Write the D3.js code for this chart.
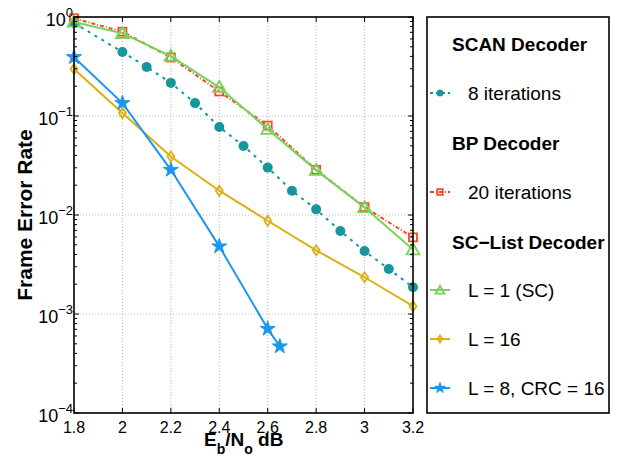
<!DOCTYPE html>
<html>
<head>
<meta charset="utf-8">
<script src="https://cdn.jsdelivr.net/npm/d3@7"></script>
<style>
  body { margin: 0; background: #fff; }
  svg { display: block; font-family: "Liberation Sans", Arial, Helvetica, sans-serif; }
</style>
</head>
<body>
<svg id="chart" width="624" height="459"></svg>
<script>
// Eb/No (dB) grid for each curve
const ebnoScan = [1.8, 2.0, 2.1, 2.2, 2.3, 2.4, 2.5, 2.6, 2.7, 2.8, 2.9, 3.0, 3.1, 3.2];
const ferScan  = [0.87, 0.443, 0.313, 0.216, 0.135, 0.0774, 0.0498, 0.0301, 0.0176, 0.0114, 0.00689, 0.00432, 0.00285, 0.00186];

const ebnoBP = [1.8, 2.0, 2.2, 2.4, 2.6, 2.8, 3.0, 3.2];
const ferBP  = [0.97, 0.71, 0.39, 0.177, 0.080, 0.0286, 0.0120, 0.00594];

const ebnoSC = [1.8, 2.0, 2.2, 2.4, 2.6, 2.8, 3.0, 3.2];
const ferSC  = [0.89, 0.684, 0.403, 0.195, 0.0736, 0.0284, 0.0119, 0.00447];

const ebnoL16 = [1.8, 2.0, 2.2, 2.4, 2.6, 2.8, 3.0, 3.2];
const ferL16  = [0.299, 0.107, 0.039, 0.0176, 0.00875, 0.0044, 0.00235, 0.0012];

const ebnoCRC = [1.8, 2.0, 2.2, 2.4, 2.6, 2.65];
const ferCRC  = [0.393, 0.135, 0.0286, 0.00482, 0.000708, 0.000471];

const xTicks = [1.8, 2.0, 2.2, 2.4, 2.6, 2.8, 3.0, 3.2];
const xTickLabels = ["1.8", "2", "2.2", "2.4", "2.6", "2.8", "3", "3.2"];
const yExponents = [0, -1, -2, -3, -4];

const colors = {
  scan: "#17969c",
  bp: "#f5492a",
  sc: "#76d45a",
  l16: "#dcb015",
  crc: "#1d97ee"
};

const svg = d3.select("#chart");
const margin = { left: 74, right: 211, top: 17, bottom: 46 };
const W = 624, H = 459;
const plotW = W - margin.left - margin.right;
const plotH = H - margin.top - margin.bottom;

const x = d3.scaleLinear().domain([1.8, 3.2]).range([margin.left, margin.left + plotW]);
const y = d3.scaleLog().domain([1e-4, 1]).range([margin.top + plotH, margin.top]);

const g = svg.append("g");

// dotted grid at major ticks
const grid = g.append("g").attr("stroke", "#b8b8b8").attr("stroke-width", 1).attr("stroke-dasharray", "1,2");
xTicks.slice(1, -1).forEach(t => {
  grid.append("line").attr("x1", x(t)).attr("x2", x(t)).attr("y1", y(1)).attr("y2", y(1e-4));
});
yExponents.slice(1, -1).forEach(e => {
  grid.append("line").attr("x1", x(1.8)).attr("x2", x(3.2)).attr("y1", y(Math.pow(10, e))).attr("y2", y(Math.pow(10, e)));
});

// series
function series(xs, ys, color, dash, marker) {
  const pts = xs.map((v, i) => [v, ys[i]]);
  const line = d3.line().x(d => x(d[0])).y(d => y(d[1]));
  g.append("path").datum(pts).attr("d", line)
    .attr("fill", "none").attr("stroke", color).attr("stroke-width", 2)
    .attr("stroke-dasharray", dash);
  const mg = g.append("g");
  pts.forEach(p => drawMarker(mg, x(p[0]), y(p[1]), color, marker, 1));
}

function drawMarker(sel, cx, cy, color, marker, s) {
  if (marker === "circle") {
    sel.append("circle").attr("cx", cx).attr("cy", cy).attr("r", 5 * s).attr("fill", color);
  } else if (marker === "square") {
    sel.append("rect").attr("x", cx - 4 * s).attr("y", cy - 4 * s).attr("width", 8 * s).attr("height", 8 * s)
      .attr("fill", "none").attr("stroke", color).attr("stroke-width", 1.8);
  } else if (marker === "triangle") {
    sel.append("path").attr("d", d3.symbol(d3.symbolTriangle, 70 * s * s)())
      .attr("transform", `translate(${cx},${cy + 1})`)
      .attr("fill", "none").attr("stroke", color).attr("stroke-width", 1.8);
  } else if (marker === "diamond") {
    sel.append("path").attr("d", `M0,${-5 * s}L${3.5 * s},0L0,${5 * s}L${-3.5 * s},0Z`)
      .attr("transform", `translate(${cx},${cy})`)
      .attr("fill", "none").attr("stroke", color).attr("stroke-width", 1.8);
  } else if (marker === "star") {
    sel.append("path").attr("d", d3.symbol(d3.symbolStar, 70 * s * s)())
      .attr("transform", `translate(${cx},${cy})`)
      .attr("fill", color).attr("stroke", color).attr("stroke-width", 1);
  }
}

series(ebnoL16, ferL16, colors.l16, null, "diamond");
series(ebnoCRC, ferCRC, colors.crc, null, "star");
series(ebnoScan, ferScan, colors.scan, "3,5", "circle");
series(ebnoBP, ferBP, colors.bp, "4,2,1,2", "square");
series(ebnoSC, ferSC, colors.sc, null, "triangle");

// axes box
const axes = g.append("g").attr("stroke", "#000");
axes.append("rect").attr("x", x(1.8)).attr("y", y(1)).attr("width", plotW).attr("height", plotH)
  .attr("fill", "none").attr("stroke-width", 1.6);

// x ticks (inside, top and bottom)
xTicks.forEach(t => {
  axes.append("line").attr("x1", x(t)).attr("x2", x(t)).attr("y1", y(1e-4)).attr("y2", y(1e-4) - 5).attr("stroke-width", 1);
  axes.append("line").attr("x1", x(t)).attr("x2", x(t)).attr("y1", y(1)).attr("y2", y(1) + 5).attr("stroke-width", 1);
});
// y ticks, major and minor, both sides
yExponents.forEach(e => {
  const base = Math.pow(10, e);
  [x(1.8), x(3.2)].forEach((px, side) => {
    const dir = side === 0 ? 1 : -1;
    axes.append("line").attr("x1", px).attr("x2", px + dir * 5).attr("y1", y(base)).attr("y2", y(base)).attr("stroke-width", 1);
    if (e < 0) {
      for (let k = 2; k <= 9; k++) {
        const v = base * k;
        axes.append("line").attr("x1", px).attr("x2", px + dir * 3).attr("y1", y(v)).attr("y2", y(v)).attr("stroke-width", 1);
      }
    }
  });
});

// tick labels
xTicks.forEach((t, i) => {
  g.append("text").attr("x", x(t)).attr("y", 433).attr("text-anchor", "middle")
    .attr("font-size", 16).text(xTickLabels[i]);
});
yExponents.forEach(e => {
  const t = g.append("text").attr("x", 73).attr("y", y(Math.pow(10, e)) + 8.5).attr("text-anchor", "end").attr("font-size", 18);
  t.append("tspan").text("10");
  t.append("tspan").attr("font-size", 13).attr("dy", -8.5).text(e === 0 ? "0" : "\u2212" + (-e));
});

// axis titles
const xl = g.append("text").attr("x", 204).attr("y", 446).attr("font-size", 19).attr("font-weight", "bold");
xl.append("tspan").text("E");
xl.append("tspan").attr("font-size", 14).attr("dy", 8).text("b");
xl.append("tspan").attr("dy", -8).text("/N");
xl.append("tspan").attr("font-size", 14).attr("dy", 8).text("o");
xl.append("tspan").attr("dy", -8).text(" dB");

g.append("text").attr("transform", "translate(32,215) rotate(-90)").attr("text-anchor", "middle")
  .attr("font-size", 21).attr("font-weight", "bold").text("Frame Error Rate");

// legend
const lg = svg.append("g");
lg.append("rect").attr("x", 427).attr("y", 17).attr("width", 182).attr("height", 396)
  .attr("fill", "#fff").attr("stroke", "#000").attr("stroke-width", 1.6);

const legendHeads = [
  { text: "SCAN Decoder", y: 51 },
  { text: "BP Decoder", y: 150 },
  { text: "SC\u2212List Decoder", y: 249 }
];
legendHeads.forEach(h => {
  lg.append("text").attr("x", 452).attr("y", h.y).attr("font-size", 19).attr("font-weight", "bold").text(h.text);
});

const legendItems = [
  { text: "8 iterations", y: 93, color: colors.scan, dash: "3,3", marker: "circle" },
  { text: "20 iterations", y: 192, color: colors.bp, dash: "4,2,1,2", marker: "square" },
  { text: "L = 1 (SC)", y: 290, color: colors.sc, dash: null, marker: "triangle" },
  { text: "L = 16", y: 339, color: colors.l16, dash: null, marker: "diamond" },
  { text: "L = 8, CRC = 16", y: 388, color: colors.crc, dash: null, marker: "star" }
];
legendItems.forEach(it => {
  lg.append("line").attr("x1", 430).attr("x2", 450).attr("y1", it.y).attr("y2", it.y)
    .attr("stroke", it.color).attr("stroke-width", 2).attr("stroke-dasharray", it.dash);
  drawMarker(lg, 440, it.y, it.color, it.marker, 0.7);
  lg.append("text").attr("x", 468).attr("y", it.y + 7).attr("font-size", 19).text(it.text);
});
</script>
</body>
</html>
